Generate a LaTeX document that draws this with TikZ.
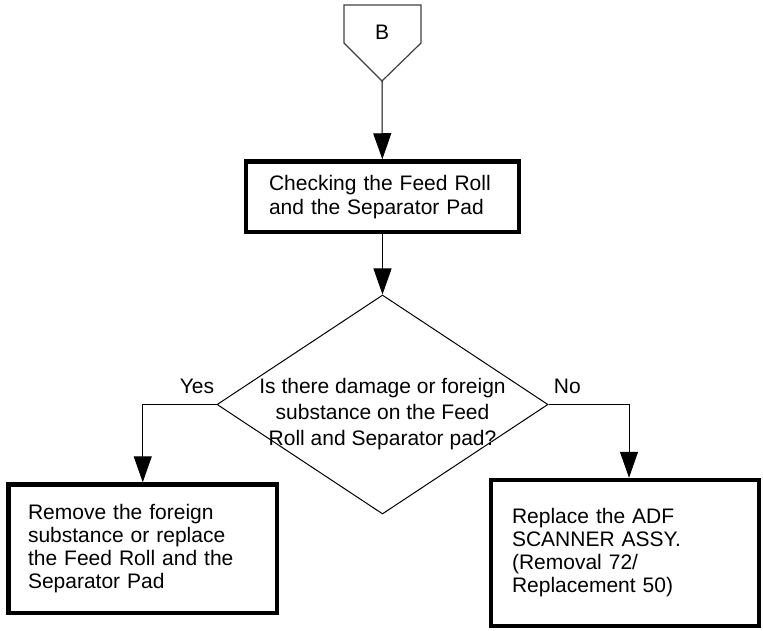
\documentclass[tikz,border=0pt]{standalone}
\usepackage{fontspec}
\setmainfont{Liberation Sans}
\usepackage{tikz}
\usetikzlibrary{arrows.meta, positioning, shapes.geometric}

\begin{document}
\begin{tikzpicture}[x=0.5pt, y=-0.5pt,
    >={Triangle[length=13pt, width=9pt]},
    font=\fontsize{10.5}{12}\selectfont,
    procbox/.style={draw, line width=2.25pt, align=left, inner ysep=0pt},
    flow/.style={->, line width=0.5pt}]
    \useasboundingbox (0,0) rectangle (763,630);

    % Connector B
    \draw[line width=0.6pt, black!75] (344,5) -- (421,5) -- (421,43) -- (382,81) -- (344,43) -- cycle;
    \node (conB) at (382,32.5) {B};
    \coordinate (tipB) at (382,81);

    % Check box
    \node[procbox, text width=113.5pt, inner xsep=11.5pt, minimum height=35.25pt] (check) at (382.5,196.75)
        {Checking the Feed Roll\\and the Separator Pad};

    % Decision
    \node[draw, diamond, line width=0.5pt, minimum width=165.5pt, minimum height=109.5pt, inner sep=0pt] (dia) at (382.5,404.5) {};
    \node[align=center, font=\fontsize{10.5}{13}\selectfont] (question) at ([yshift=-5pt]dia.center)
        {Is there damage or foreign\\substance on the Feed\\Roll and Separator pad?};
    \node[anchor=base east, inner sep=0pt] (yes) at ([xshift=-1pt, yshift=5.5pt]dia.west) {Yes};
    \node[anchor=base west, inner sep=0pt] (no) at ([xshift=2.5pt, yshift=5.5pt]dia.east) {No};

    % Result boxes
    \node[procbox, font=\fontsize{10.5}{11.5}\selectfont, text width=114.75pt, inner xsep=9.75pt, minimum height=64.25pt] (remove) at (142.75,548.75)
        {Remove the foreign\\substance or replace\\the Feed Roll and the\\Separator Pad};
    \node[procbox, font=\fontsize{10.5}{11.5}\selectfont, text width=113pt, inner xsep=10.5pt, minimum height=73pt] (replace) at (625,553)
        {Replace the ADF\\SCANNER ASSY.\\(Removal 72/\\Replacement 50)};

    % Arrows
    \draw[flow] (tipB) -- (check);
    \draw[flow] (check) -- (dia);
    \draw[flow] (dia.west) -| (remove.north);
    \draw[flow] (dia.east) -| ([xshift=2pt]replace.north);
\end{tikzpicture}
\end{document}
